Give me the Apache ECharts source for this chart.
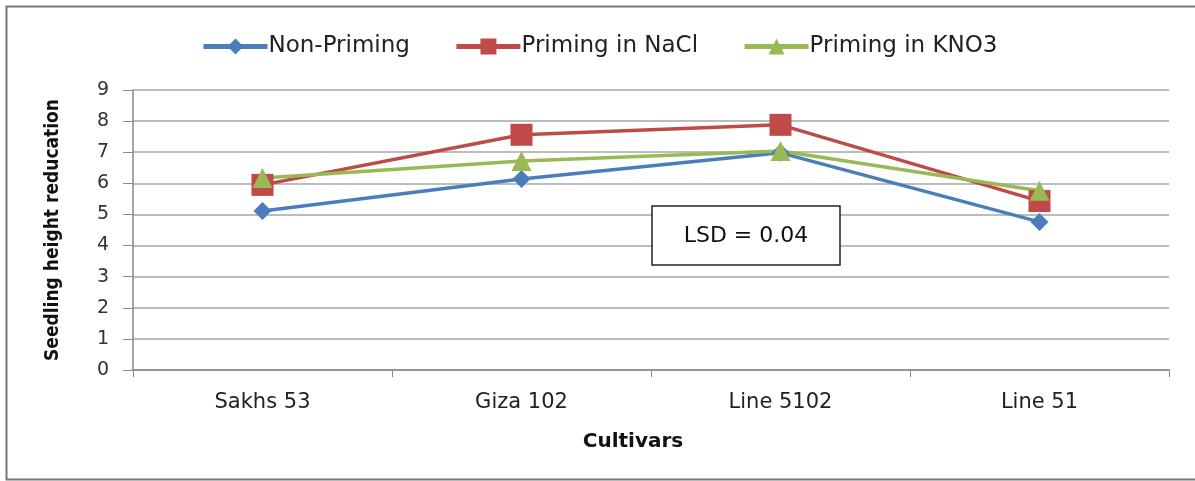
<!DOCTYPE html>
<html>
<head>
<meta charset="utf-8">
<script src="https://cdn.jsdelivr.net/npm/echarts@6/dist/echarts.min.js"></script>
<style>
  html, body { margin: 0; padding: 0; background: #fff; }
  #chart { width: 1195px; height: 481px; }
</style>
</head>
<body>
<div id="chart"></div>
<script>
// Cultivars on the x axis
const cultivars = ['Sakhs 53', 'Giza 102', 'Line 5102', 'Line 51'];
// Seedling height reduction for each treatment
const nonPriming = [5.11, 6.14, 6.98, 4.76];
const primingNaCl = [5.95, 7.56, 7.88, 5.43];
const primingKNO3 = [6.17, 6.72, 7.04, 5.76];
const seriesNames = ['Non-Priming', 'Priming in NaCl', 'Priming in KNO3'];

const font = '"DejaVu Sans", "Liberation Sans", sans-serif';
const titleFont = '"DejaVu Sans Condensed", "DejaVu Sans", sans-serif';
const chart = echarts.init(document.getElementById('chart'));

function lineSeries(name, data, color, symbol, size) {
  return {
    name: name,
    type: 'line',
    data: data,
    symbol: symbol,
    symbolSize: size,
    lineStyle: { color: color, width: 3.5 },
    itemStyle: { color: color },
    emphasis: { disabled: true },
    animation: false
  };
}

chart.setOption({
  backgroundColor: '#fff',
  textStyle: { fontFamily: font },
  legend: {
    top: 30,
    left: 196,
    itemGap: 44,
    itemWidth: 64,
    itemHeight: 20,
    lineStyle: { width: 5 },
    textStyle: { fontSize: 23, color: '#222', fontFamily: font, padding: [0, 0, 0, -4] },
    data: seriesNames
  },
  grid: { left: 133, right: 26, top: 90, bottom: 111, containLabel: false },
  xAxis: {
    type: 'category',
    data: cultivars,
    boundaryGap: true,
    name: 'Cultivars',
    nameLocation: 'middle',
    nameGap: 62,
    nameTextStyle: { fontSize: 20, fontWeight: 'bold', color: '#111', fontFamily: font, padding: [0, 36, 0, 0] },
    axisLine: { lineStyle: { color: '#888', width: 1.5 } },
    axisTick: { show: true, length: 7, lineStyle: { color: '#888' } },
    axisLabel: { fontSize: 21, color: '#222', margin: 22 }
  },
  yAxis: {
    type: 'value',
    min: 0,
    max: 9,
    interval: 1,
    name: 'Seedling height reducation',
    nameLocation: 'middle',
    nameGap: 70,
    nameTextStyle: { fontSize: 19, fontWeight: 'bold', color: '#111', fontFamily: titleFont },
    axisLine: { show: true, lineStyle: { color: '#888', width: 1.5 } },
    axisTick: { show: true, length: 10, inside: false, lineStyle: { color: '#888' } },
    axisLabel: { fontSize: 19, color: '#333', margin: 24 },
    splitLine: { lineStyle: { color: '#a6a6a6', width: 1.5 } }
  },
  series: [
    lineSeries(seriesNames[0], nonPriming, '#4a7ebb', 'diamond', 18),
    lineSeries(seriesNames[1], primingNaCl, '#be4b48', 'rect', 22),
    lineSeries(seriesNames[2], primingKNO3, '#98b954', 'triangle', 20)
  ],
  graphic: [
    {
      type: 'rect',
      left: 4, top: 4,
      shape: { width: 1200, height: 473 },
      style: { fill: 'none', stroke: '#777', lineWidth: 2 },
      silent: true
    },
    {
      type: 'rect',
      x: 652, y: 206,
      shape: { x: 0, y: 0, width: 188, height: 59 },
      style: { fill: '#fff', stroke: '#222', lineWidth: 1.5 },
      z: 10
    },
    {
      type: 'text',
      x: 746, y: 236,
      style: {
        text: 'LSD = 0.04',
        fontSize: 22, fontFamily: font, fill: '#111',
        align: 'center', verticalAlign: 'middle'
      },
      z: 11
    }
  ]
});
</script>
</body>
</html>
